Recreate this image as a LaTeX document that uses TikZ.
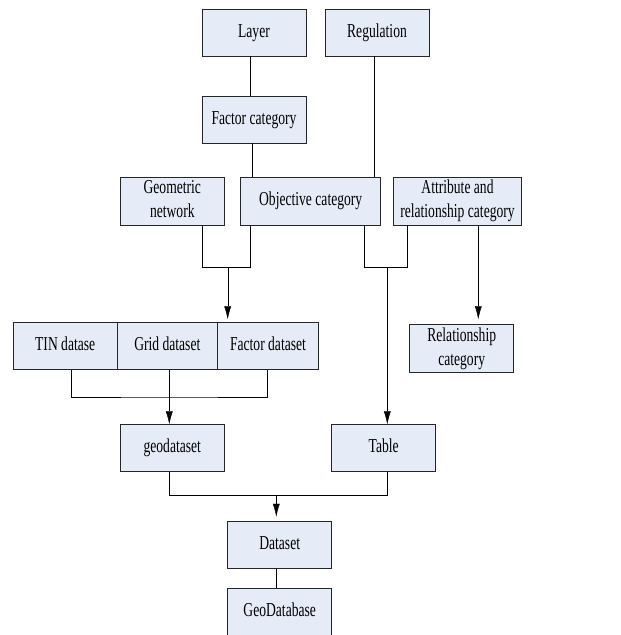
\documentclass[tikz,border=0pt]{standalone}
\usepackage{fontspec}
\setmainfont{Liberation Serif}
\usetikzlibrary{arrows.meta}
\definecolor{boxfill}{RGB}{230,236,247}
\newcommand{\tallt}[1]{\scalebox{1}[1.45]{\begin{tabular}{@{}c@{}}#1\end{tabular}}}
\begin{document}
\begin{tikzpicture}[x=1pt,y=-1pt]
	\tikzstyle{box}=[draw=black!85,fill=boxfill,line width=0.9pt,inner sep=0,minimum width=104,minimum height=47,font=\fontsize{13.6}{16.4}\selectfont]
	\tikzstyle{arr}=[-{Latex[length=13,width=7]}]
	\clip (0,0) rectangle (621,635);
	% boxes
	\node[box] (Layer) at (254,32.5) {\tallt{Layer}};
	\node[box] (Regulation) at (377,32.5) {\tallt{Regulation}};
	\node[box] (FactorCat) at (254,119.5) {\tallt{Factor category}};
	\node[box,minimum height=48] (Geometric) at (172.3,201) {\tallt{Geometric\\network}};
	\node[box,minimum width=140,minimum height=48] (Objective) at (310.7,201) {\tallt{Objective category}};
	\node[box,minimum width=128.4,minimum height=48] (Attribute) at (457.5,201) {\tallt{Attribute and\\relationship category}};
	\node[box,minimum width=103.7] (TIN) at (65.2,346.2) {\tallt{TIN datase}};
	\node[box,minimum width=100.7] (Grid) at (167.3,346.2) {\tallt{Grid dataset}};
	\node[box,minimum width=100.6] (FactorSet) at (268,346.2) {\tallt{Factor dataset}};
	\node[box,minimum height=48] (RelCat) at (461.7,348.7) {\tallt{Relationship\\category}};
	\node[box] (Geodataset) at (172.3,448.2) {\tallt{geodataset}};
	\node[box] (Table) at (383.7,448.2) {\tallt{Table}};
	\node[box] (Dataset) at (279.7,544.7) {\tallt{Dataset}};
	\node[box] (GeoDatabase) at (279.7,611.8) {\tallt{GeoDatabase}};
	% branch points
	\coordinate (j1) at (227.7,266.7);
	\coordinate (j2) at (387.3,266.7);
	\coordinate (j3) at (169.3,397);
	\coordinate (j4) at (276.3,494.7);
	% connectors
	\draw ([xshift=-3.7]Layer.south) -- ([xshift=-3.7]FactorCat.north);
	\draw ([xshift=-2]FactorCat.south) -- ([xshift=-2]FactorCat.south |- Objective.north);
	\draw ([xshift=-3]Regulation.south) -- ([xshift=-3]Regulation.south |- Objective.north);
	\draw ([xshift=29.4]Geometric.south) |- (j1) -| ([xshift=-60.4]Objective.south);
	\draw[arr,shorten >=3] (j1) -- (j1 |- FactorSet.north);
	\draw ([xshift=53.6]Objective.south) |- (j2) -| ([xshift=-50.8]Attribute.south);
	\draw[arr] (j2) -- (j2 |- Table.north);
	\draw[arr,shorten >=5] ([xshift=20.8]Attribute.south) -- ([xshift=20.8]Attribute.south |- RelCat.north);
	\draw ([xshift=6]TIN.south) |- (j3) -| ([xshift=-1.3]FactorSet.south);
	\draw ([xshift=2]Grid.south) -- (j3);
	\draw[arr] (j3) -- (j3 |- Geodataset.north);
	\draw ([xshift=-3]Geodataset.south) |- (j4) -| ([xshift=3.3]Table.south);
	\draw[arr,shorten >=4] (j4) -- (j4 |- Dataset.north);
	\draw ([xshift=-3.4]Dataset.south) -- ([xshift=-3.4]GeoDatabase.north);
\end{tikzpicture}
\end{document}
